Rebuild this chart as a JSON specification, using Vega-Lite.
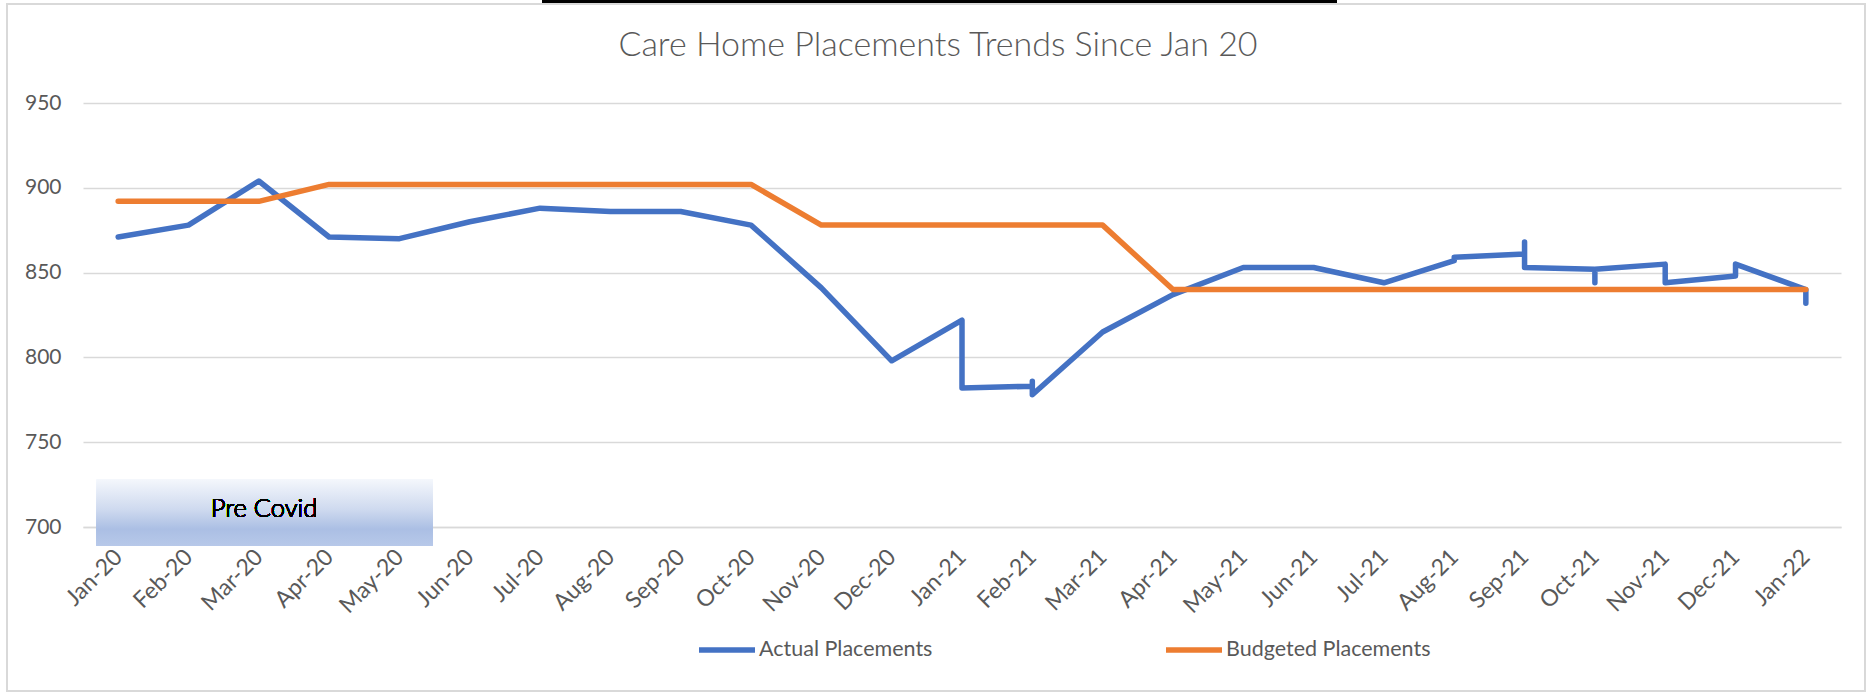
{
  "$schema": "https://vega.github.io/schema/vega-lite/v6.json",
  "autosize": {"type": "none"},
  "padding": {"left": 83, "top": 103, "right": 28, "bottom": 166},
  "width": 1758,
  "height": 424,
  "background": "#ffffff",
  "config": {
    "view": {"stroke": null},
    "font": "Lato"
  },
  "title": {
    "text": "Care Home Placements Trends Since Jan 20",
    "font": "Lato",
    "fontSize": 34,
    "fontWeight": 300,
    "color": "#595959",
    "anchor": "middle",
    "dx": -24,
    "offset": -90,
    "baseline": "alphabetic"
  },
  "data": {
    "values": [
      {"series": "Actual Placements", "ord": 1, "month": 0, "value": 871},
      {"series": "Actual Placements", "ord": 2, "month": 1, "value": 878},
      {"series": "Actual Placements", "ord": 3, "month": 2, "value": 904},
      {"series": "Actual Placements", "ord": 4, "month": 3, "value": 871},
      {"series": "Actual Placements", "ord": 5, "month": 4, "value": 870},
      {"series": "Actual Placements", "ord": 6, "month": 5, "value": 880},
      {"series": "Actual Placements", "ord": 7, "month": 6, "value": 888},
      {"series": "Actual Placements", "ord": 8, "month": 7, "value": 886},
      {"series": "Actual Placements", "ord": 9, "month": 8, "value": 886},
      {"series": "Actual Placements", "ord": 10, "month": 9, "value": 878},
      {"series": "Actual Placements", "ord": 11, "month": 10, "value": 841},
      {"series": "Actual Placements", "ord": 12, "month": 11, "value": 798},
      {"series": "Actual Placements", "ord": 13, "month": 12, "value": 822},
      {"series": "Actual Placements", "ord": 14, "month": 12, "value": 782},
      {"series": "Actual Placements", "ord": 15, "month": 13, "value": 783},
      {"series": "Actual Placements", "ord": 16, "month": 13, "value": 786},
      {"series": "Actual Placements", "ord": 17, "month": 13, "value": 778},
      {"series": "Actual Placements", "ord": 18, "month": 14, "value": 815},
      {"series": "Actual Placements", "ord": 19, "month": 15, "value": 837},
      {"series": "Actual Placements", "ord": 20, "month": 16, "value": 853},
      {"series": "Actual Placements", "ord": 21, "month": 17, "value": 853},
      {"series": "Actual Placements", "ord": 22, "month": 18, "value": 844},
      {"series": "Actual Placements", "ord": 23, "month": 19, "value": 857},
      {"series": "Actual Placements", "ord": 24, "month": 19, "value": 859},
      {"series": "Actual Placements", "ord": 25, "month": 20, "value": 861},
      {"series": "Actual Placements", "ord": 26, "month": 20, "value": 868},
      {"series": "Actual Placements", "ord": 27, "month": 20, "value": 853},
      {"series": "Actual Placements", "ord": 28, "month": 21, "value": 852},
      {"series": "Actual Placements", "ord": 29, "month": 21, "value": 844},
      {"series": "Actual Placements", "ord": 30, "month": 21, "value": 852},
      {"series": "Actual Placements", "ord": 31, "month": 22, "value": 855},
      {"series": "Actual Placements", "ord": 32, "month": 22, "value": 844},
      {"series": "Actual Placements", "ord": 33, "month": 23, "value": 848},
      {"series": "Actual Placements", "ord": 34, "month": 23, "value": 855},
      {"series": "Actual Placements", "ord": 35, "month": 24, "value": 840},
      {"series": "Actual Placements", "ord": 36, "month": 24, "value": 832},
      {"series": "Budgeted Placements", "ord": 1, "month": 0, "value": 892},
      {"series": "Budgeted Placements", "ord": 2, "month": 1, "value": 892},
      {"series": "Budgeted Placements", "ord": 3, "month": 2, "value": 892},
      {"series": "Budgeted Placements", "ord": 4, "month": 3, "value": 902},
      {"series": "Budgeted Placements", "ord": 5, "month": 4, "value": 902},
      {"series": "Budgeted Placements", "ord": 6, "month": 5, "value": 902},
      {"series": "Budgeted Placements", "ord": 7, "month": 6, "value": 902},
      {"series": "Budgeted Placements", "ord": 8, "month": 7, "value": 902},
      {"series": "Budgeted Placements", "ord": 9, "month": 8, "value": 902},
      {"series": "Budgeted Placements", "ord": 10, "month": 9, "value": 902},
      {"series": "Budgeted Placements", "ord": 11, "month": 10, "value": 878},
      {"series": "Budgeted Placements", "ord": 12, "month": 11, "value": 878},
      {"series": "Budgeted Placements", "ord": 13, "month": 12, "value": 878},
      {"series": "Budgeted Placements", "ord": 14, "month": 13, "value": 878},
      {"series": "Budgeted Placements", "ord": 15, "month": 14, "value": 878},
      {"series": "Budgeted Placements", "ord": 16, "month": 15, "value": 840},
      {"series": "Budgeted Placements", "ord": 17, "month": 16, "value": 840},
      {"series": "Budgeted Placements", "ord": 18, "month": 17, "value": 840},
      {"series": "Budgeted Placements", "ord": 19, "month": 18, "value": 840},
      {"series": "Budgeted Placements", "ord": 20, "month": 19, "value": 840},
      {"series": "Budgeted Placements", "ord": 21, "month": 20, "value": 840},
      {"series": "Budgeted Placements", "ord": 22, "month": 21, "value": 840},
      {"series": "Budgeted Placements", "ord": 23, "month": 22, "value": 840},
      {"series": "Budgeted Placements", "ord": 24, "month": 23, "value": 840},
      {"series": "Budgeted Placements", "ord": 25, "month": 24, "value": 840}
    ]
  },
  "layer": [
    {
      "mark": {"type": "rect", "fill": null, "stroke": "#d9d9d9", "strokeWidth": 1.5, "clip": false},
      "encoding": {
        "x": {"datum": -1.58, "type": "quantitative"},
        "x2": {"datum": 24.84},
        "y": {"datum": 1008.4, "type": "quantitative"},
        "y2": {"datum": 603.3}
      }
    },
    {
      "mark": {"type": "rect", "fill": "#000000", "clip": false},
      "encoding": {
        "x": {"datum": 6.03, "type": "quantitative"},
        "x2": {"datum": 17.32},
        "y": {"datum": 1010.8, "type": "quantitative"},
        "y2": {"datum": 1008.9}
      }
    },
    {
      "mark": {"type": "line", "strokeWidth": 5.5, "strokeCap": "round", "strokeJoin": "round"},
      "encoding": {
        "x": {
          "field": "month",
          "type": "quantitative",
          "scale": {"domain": [-0.5, 24.5], "nice": false, "zero": false},
          "axis": {
            "title": null,
            "values": [0,1,2,3,4,5,6,7,8,9,10,11,12,13,14,15,16,17,18,19,20,21,22,23,24],
            "labelExpr": "['Jan-20','Feb-20','Mar-20','Apr-20','May-20','Jun-20','Jul-20','Aug-20','Sep-20','Oct-20','Nov-20','Dec-20','Jan-21','Feb-21','Mar-21','Apr-21','May-21','Jun-21','Jul-21','Aug-21','Sep-21','Oct-21','Nov-21','Dec-21','Jan-22'][datum.value]",
            "labelAngle": -45,
            "labelAlign": "right",
            "labelBaseline": "middle",
            "labelFont": "Lato",
            "labelFontSize": 23,
            "labelFontWeight": 400,
            "labelColor": "#595959",
            "labelPadding": 26,
            "labelOverlap": false,
            "labelFlush": false,
            "ticks": false,
            "grid": false,
            "domain": true,
            "domainColor": "#d9d9d9",
            "domainWidth": 1.5
          }
        },
        "y": {
          "field": "value",
          "type": "quantitative",
          "scale": {"domain": [700, 950], "nice": false, "zero": false},
          "axis": {
            "title": null,
            "values": [700, 750, 800, 850, 900, 950],
            "labelFont": "Lato",
            "labelFontSize": 21,
            "labelFontWeight": 400,
            "labelColor": "#595959",
            "labelPadding": 22,
            "ticks": false,
            "domain": false,
            "grid": true,
            "gridColor": "#d9d9d9",
            "gridWidth": 1.5
          }
        },
        "color": {
          "field": "series",
          "type": "nominal",
          "scale": {"domain": ["Actual Placements", "Budgeted Placements"], "range": ["#4472c4", "#ed7d31"]},
          "legend": {
            "title": null,
            "orient": "none",
            "legendX": 613,
            "legendY": 516,
            "direction": "horizontal",
            "symbolType": "stroke",
            "symbolSize": 3136,
            "symbolStrokeWidth": 5.5,
            "labelFont": "Lato",
            "labelFontSize": 21.5,
            "labelFontWeight": 400,
            "labelColor": "#595959",
            "labelOffset": 1,
            "columnPadding": 222,
            "labelLimit": 400
          }
        },
        "order": {"field": "ord", "type": "quantitative"}
      }
    },
    {
      "mark": {
        "type": "rect",
        "clip": false,
        "fill": {
          "gradient": "linear",
          "x1": 0, "y1": 0, "x2": 0, "y2": 1,
          "stops": [
            {"offset": 0, "color": "#f4f7fc"},
            {"offset": 0.45, "color": "#cfdaef"},
            {"offset": 0.75, "color": "#abbfe4"},
            {"offset": 1, "color": "#b7c8e9"}
          ]
        }
      },
      "encoding": {
        "x": {"datum": -0.305, "type": "quantitative"},
        "x2": {"datum": 4.473},
        "y": {"datum": 728.1, "type": "quantitative"},
        "y2": {"datum": 689.0}
      }
    },
    {
      "mark": {"type": "text", "text": "Pre Covid", "font": "Lato", "fontSize": 25.5, "fontWeight": 300, "color": "#000000", "align": "center", "baseline": "alphabetic", "clip": false},
      "encoding": {
        "x": {"datum": 2.074, "type": "quantitative"},
        "y": {"datum": 706.1, "type": "quantitative"}
      }
    }
  ]
}
